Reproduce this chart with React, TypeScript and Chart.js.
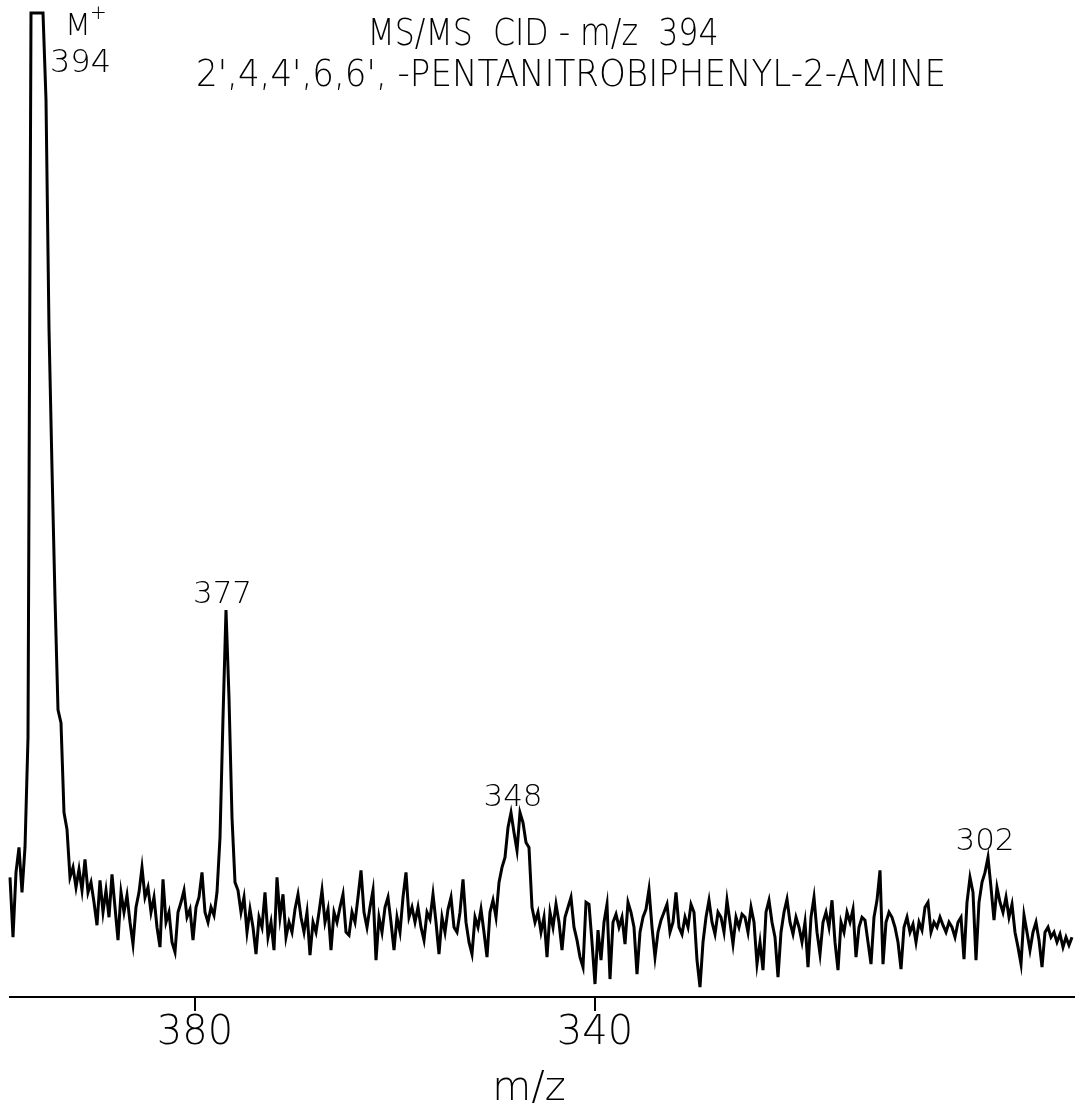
import { useEffect, useRef } from "react";
import { Chart, registerables } from "chart.js";

Chart.register(...registerables);

const FONT = "'DejaVu Sans', 'Liberation Sans', sans-serif";

// Text
const titleLines = ["MS/MS  CID - m/z  394", "2',4,4',6,6', -PENTANITROBIPHENYL-2-AMINE"];
const axisTitle = "m/z";
const axisTicks = [380, 340];
const parentLabel = "M";
const parentCharge = "+";

// Peak labels (text and apparent position on the scan, in m/z)
const peakLabels = ["394", "377", "348", "302"];
const peakLabelMz = [395.0, 377.25, 348.2, 301.0];

// Scan range (m/z, decreasing to the right)
const mzMin = 292;
const mzMax = 398.5;
const mzStep = 0.3;

// Trace segments: relative intensity (arbitrary units, full scale 1000), one value every 0.3 m/z
const segmentStartMz = [398.5, 392.2, 377.5, 372.4, 348.7, 345.7, 303.1];
const trace394 = [120, 60, 125, 150, 105, 150, 260, 987, 987, 987, 987, 987, 900, 670, 530, 400, 288, 275, 185, 168, 120];
const noiseA = [130, 110, 128, 107, 138, 105, 115, 95, 72, 117, 85, 107, 80, 123, 90, 57, 105, 85, 102, 75, 53, 90, 105, 130, 100, 110, 85, 100, 70, 50, 118, 75, 85, 55, 45, 85, 95, 107, 80, 88, 57, 90, 100, 125, 85, 75, 90, 82, 105];
const trace377 = [160, 280, 388, 300, 180, 115, 107, 85, 100, 65, 88, 70, 43, 80, 70, 105, 60];
const noiseB = [75, 47, 120, 80, 103, 60, 75, 65, 88, 103, 80, 65, 85, 42, 75, 65, 85, 107, 75, 88, 47, 85, 75, 90, 103, 65, 62, 85, 75, 100, 127, 85, 70, 90, 107, 37, 80, 65, 90, 100, 75, 47, 80, 65, 100, 125, 80, 90, 75, 90, 70, 57, 85, 78, 103, 75, 43, 80, 65, 88, 100, 70, 65, 85, 118, 75, 55, 43, 80, 70, 88, 65, 40, 85, 97, 80, 115, 130, 140];
const trace348 = [170, 185, 165, 147, 185, 175, 155, 150, 90, 75];
const noiseC = [85, 65, 80, 40, 85, 70, 93, 75, 47, 80, 90, 100, 70, 57, 40, 30, 95, 93, 55, 13, 67, 37, 75, 93, 18, 75, 83, 70, 80, 53, 95, 85, 70, 23, 65, 80, 88, 108, 70, 40, 65, 77, 85, 93, 65, 75, 105, 70, 63, 80, 70, 93, 85, 37, 10, 55, 80, 97, 75, 63, 85, 80, 65, 97, 75, 53, 80, 70, 83, 80, 65, 90, 75, 33, 55, 27, 85, 97, 75, 60, 20, 65, 85, 98, 75, 63, 80, 70, 55, 75, 30, 80, 100, 65, 43, 75, 85, 70, 97, 55, 27, 75, 65, 85, 75, 88, 40, 70, 80, 77, 55, 33, 80, 97, 127, 33, 75, 85, 80, 70, 55, 28, 70, 80, 65, 73, 55, 75, 67, 90, 95, 65, 75, 70, 80, 72, 65, 75, 70, 60, 75, 80];
const trace302 = [38, 95, 120, 105, 37, 95, 115, 125, 140, 110, 77, 110, 95, 85, 100, 80, 93, 65, 50, 33, 82, 65, 47, 65, 75, 57, 30, 65, 70, 60, 65, 55, 63, 50, 60, 52, 60];

const segments = [trace394, noiseA, trace377, noiseB, trace348, noiseC, trace302];

function buildPoints() {
  const pts: { x: number; y: number }[] = [];
  segments.forEach((seg, s) => {
    seg.forEach((v, i) => {
      pts.push({ x: +(segmentStartMz[s] - i * mzStep).toFixed(2), y: v });
    });
  });
  return pts;
}

const annotationPlugin = {
  id: "msAnnotations",
  afterDraw(chart: any) {
    const { ctx, scales } = chart;
    const xs = scales.x;
    const ys = scales.y;
    const pts = chart.data.datasets[0].data as { x: number; y: number }[];
    const localMax = (mz: number, w: number) => {
      let m = 0;
      pts.forEach((p) => {
        if (Math.abs(p.x - mz) <= w && p.y > m) m = p.y;
      });
      return m;
    };
    ctx.save();
    ctx.fillStyle = "#000";
    ctx.textBaseline = "alphabetic";

    // Title lines (condensed lettering)
    ctx.textAlign = "center";
    ctx.font = `200 37px ${FONT}`;
    ctx.fillText(titleLines[0], 543, 45, 351);
    ctx.font = `200 38px ${FONT}`;
    ctx.fillText(titleLines[1], 571, 86, 750);

    // Parent ion label (saturated peak)
    const px0 = xs.getPixelForValue(peakLabelMz[0]);
    const top0 = ys.getPixelForValue(localMax(peakLabelMz[0], 2));
    ctx.textAlign = "left";
    ctx.font = `200 30px ${FONT}`;
    ctx.fillText(parentLabel, px0 + 20, top0 + 22);
    ctx.font = `200 20px ${FONT}`;
    ctx.fillText(parentCharge, px0 + 45, top0 + 6);
    ctx.font = `200 32px ${FONT}`;
    ctx.fillText(peakLabels[0], px0 + 5, top0 + 59);

    // Fragment labels
    ctx.textAlign = "center";
    ctx.font = `200 31px ${FONT}`;
    for (let i = 1; i < peakLabels.length; i++) {
      const px = xs.getPixelForValue(peakLabelMz[i]);
      const py = ys.getPixelForValue(localMax(peakLabelMz[i], 1.5));
      ctx.fillText(peakLabels[i], px, py - 7);
    }

    // Axis title
    ctx.font = `200 40px ${FONT}`;
    ctx.fillText(axisTitle, 529, 1100);
    ctx.restore();
  },
};

export default function App() {
  const ref = useRef<HTMLCanvasElement | null>(null);
  useEffect(() => {
    if (!ref.current) return;
    const chart = new Chart(ref.current, {
      type: "line",
      data: {
        datasets: [
          {
            data: buildPoints(),
            borderColor: "#000",
            borderWidth: 3,
            pointRadius: 0,
            tension: 0,
            fill: false,
            clip: false as any,
          },
        ],
      },
      options: {
        responsive: false,
        animation: false,
        layout: { padding: { left: 10, right: 0, top: 0, bottom: 46 } },
        plugins: { legend: { display: false }, tooltip: { enabled: false }, title: { display: false } },
        scales: {
          x: {
            type: "linear",
            reverse: true,
            min: mzMin,
            max: mzMax,
            afterBuildTicks: (scale: any) => {
              scale.ticks = axisTicks.map((value) => ({ value }));
            },
            ticks: {
              autoSkip: false,
              maxRotation: 0,
              padding: 3,
              color: "#000",
              font: { family: FONT, size: 40, weight: "200" as any, lineHeight: 1 },
              callback: (v: any) => String(v),
            },
            grid: { display: true, drawOnChartArea: false, drawTicks: true, tickLength: 14, color: "#000", lineWidth: 2 },
            border: { display: true, color: "#000", width: 2 },
            title: { display: false },
          },
          y: { display: false, min: 0, max: 1000 },
        },
      },
      plugins: [annotationPlugin],
    });
    return () => chart.destroy();
  }, []);
  return (
    <div style={{ position: "absolute", left: 0, top: 0, width: 1075, height: 1103, background: "#fff" }}>
      <canvas ref={ref} width={1075} height={1103} />
    </div>
  );
}
